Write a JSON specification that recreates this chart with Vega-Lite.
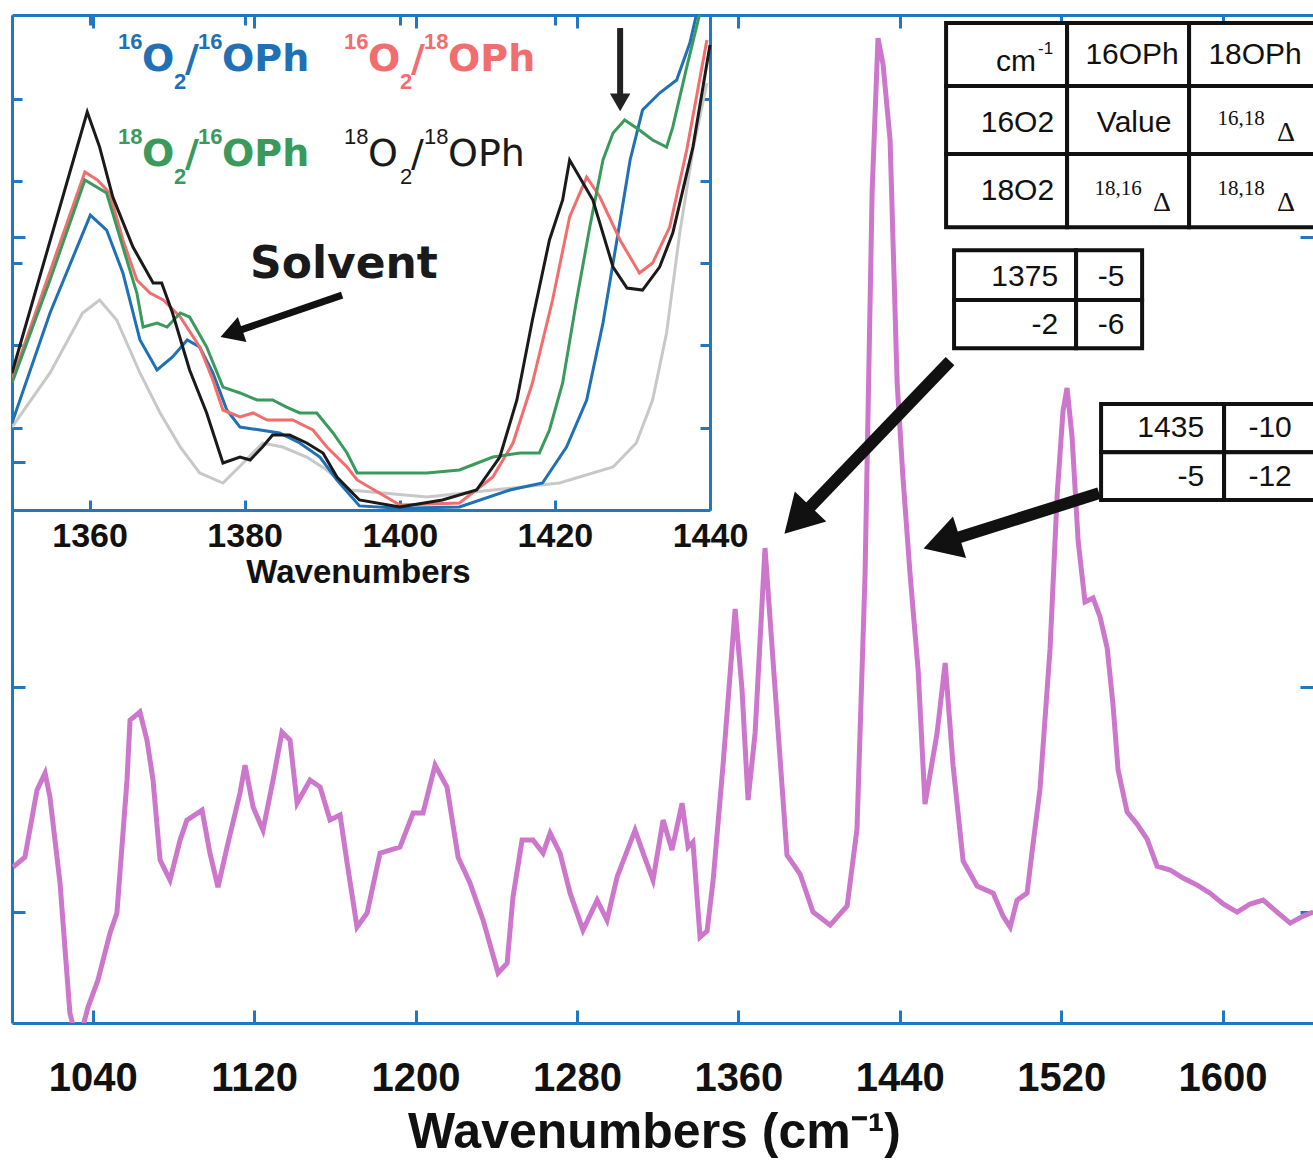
{
  "$schema": "https://vega.github.io/schema/vega-lite/v6.json",
  "width": 1301,
  "height": 1008,
  "autosize": {"type": "none"},
  "padding": {"left": 12, "top": 15, "right": 0, "bottom": 140},
  "background": "white",
  "config": {"view": {"stroke": null}, "axis": {"grid": false}},
  "datasets": {
    "main": [
      {"wn":1000.5,"a":20.0},{"wn":1006.4,"a":24.4},{"wn":1012.4,"a":54.2},{"wn":1016.4,"a":61.8},{"wn":1018.8,"a":51.1},
      {"wn":1023.8,"a":12.9},{"wn":1028.7,"a":-44.9},{"wn":1032.7,"a":-59.1},{"wn":1037.7,"a":-42.2},{"wn":1042.6,"a":-30.2},
      {"wn":1048.6,"a":-9.3},{"wn":1052.0,"a":-0.4},{"wn":1057.0,"a":58.7},{"wn":1058.5,"a":85.3},{"wn":1063.4,"a":88.9},
      {"wn":1066.9,"a":76.4},{"wn":1069.9,"a":58.7},{"wn":1073.4,"a":23.1},{"wn":1078.3,"a":14.2},{"wn":1083.3,"a":32.0},
      {"wn":1086.7,"a":40.9},{"wn":1094.2,"a":45.3},{"wn":1098.1,"a":26.2},{"wn":1102.1,"a":11.1},{"wn":1106.6,"a":28.9},
      {"wn":1113.0,"a":52.9},{"wn":1115.5,"a":65.3},{"wn":1119.5,"a":46.7},{"wn":1124.4,"a":36.4},{"wn":1129.4,"a":58.7},
      {"wn":1133.8,"a":80.0},{"wn":1137.8,"a":76.4},{"wn":1141.3,"a":48.4},{"wn":1147.7,"a":58.7},{"wn":1152.7,"a":55.6},
      {"wn":1157.6,"a":40.9},{"wn":1162.6,"a":43.1},{"wn":1166.1,"a":21.8},{"wn":1171.0,"a":-6.7},{"wn":1176.0,"a":-0.4},
      {"wn":1182.4,"a":26.2},{"wn":1192.3,"a":28.9},{"wn":1198.8,"a":44.0},{"wn":1203.7,"a":44.0},{"wn":1209.7,"a":65.3},
      {"wn":1215.6,"a":55.6},{"wn":1221.1,"a":24.4},{"wn":1227.0,"a":12.9},{"wn":1233.5,"a":-3.6},{"wn":1240.9,"a":-27.1},
      {"wn":1245.4,"a":-22.7},{"wn":1248.3,"a":6.7},{"wn":1252.8,"a":32.0},{"wn":1258.2,"a":32.0},{"wn":1263.2,"a":26.2},
      {"wn":1266.7,"a":35.1},{"wn":1271.6,"a":26.2},{"wn":1276.6,"a":8.4},{"wn":1283.0,"a":-8.0},{"wn":1290.0,"a":5.3},
      {"wn":1294.9,"a":-3.6},{"wn":1299.9,"a":15.6},{"wn":1308.8,"a":36.4},{"wn":1312.8,"a":26.2},{"wn":1317.7,"a":14.2},
      {"wn":1322.7,"a":40.9},{"wn":1327.1,"a":27.6},{"wn":1332.1,"a":48.4},{"wn":1335.1,"a":28.9},{"wn":1337.5,"a":31.1},
      {"wn":1341.0,"a":-11.1},{"wn":1344.5,"a":-8.4},{"wn":1347.5,"a":14.2},{"wn":1352.4,"a":65.3},{"wn":1358.4,"a":134.7},
      {"wn":1361.8,"a":99.1},{"wn":1364.8,"a":49.8},{"wn":1368.3,"a":79.6},{"wn":1373.2,"a":161.8},{"wn":1378.2,"a":99.1},
      {"wn":1384.1,"a":25.3},{"wn":1390.6,"a":16.9},{"wn":1397.0,"a":0.0},{"wn":1405.5,"a":-5.8},{"wn":1413.9,"a":2.7},
      {"wn":1418.8,"a":36.9},{"wn":1422.8,"a":150.2},{"wn":1426.3,"a":320.4},{"wn":1429.2,"a":388.4},{"wn":1431.7,"a":376.9},
      {"wn":1435.2,"a":343.1},{"wn":1438.7,"a":235.1},{"wn":1441.6,"a":192.9},{"wn":1445.1,"a":150.2},{"wn":1449.1,"a":107.6},
      {"wn":1452.5,"a":48.0},{"wn":1458.5,"a":79.6},{"wn":1462.5,"a":110.7},{"wn":1466.4,"a":65.3},{"wn":1471.4,"a":22.7},
      {"wn":1478.3,"a":11.6},{"wn":1486.3,"a":8.4},{"wn":1491.2,"a":-1.8},{"wn":1494.7,"a":-6.7},{"wn":1498.1,"a":5.3},
      {"wn":1503.1,"a":8.4},{"wn":1505.6,"a":27.1},{"wn":1509.5,"a":54.7},{"wn":1514.5,"a":117.3},{"wn":1518.0,"a":185.3},
      {"wn":1520.9,"a":222.7},{"wn":1522.9,"a":232.9},{"wn":1525.4,"a":211.1},{"wn":1528.4,"a":164.9},{"wn":1531.8,"a":137.8},
      {"wn":1535.8,"a":139.6},{"wn":1539.3,"a":131.1},{"wn":1542.8,"a":117.3},{"wn":1545.7,"a":92.0},{"wn":1548.2,"a":63.1},
      {"wn":1552.7,"a":44.4},{"wn":1557.6,"a":39.1},{"wn":1562.6,"a":32.4},{"wn":1567.5,"a":20.4},{"wn":1574.0,"a":18.7},
      {"wn":1580.4,"a":15.1},{"wn":1587.4,"a":12.0},{"wn":1593.8,"a":8.4},{"wn":1600.3,"a":3.6},{"wn":1607.2,"a":0.0},
      {"wn":1613.6,"a":3.6},{"wn":1620.1,"a":5.3},{"wn":1627.0,"a":0.0},{"wn":1633.5,"a":-4.9},{"wn":1639.9,"a":-1.8},
      {"wn":1644.9,"a":0.0}
    ],
    "inset": [
      {"wn":1350.0,"a":100.8,"sample":"Solvent"},{"wn":1354.9,"a":166.5,"sample":"Solvent"},{"wn":1359.1,"a":239.4,"sample":"Solvent"},
      {"wn":1361.3,"a":255.2,"sample":"Solvent"},{"wn":1363.5,"a":230.9,"sample":"Solvent"},{"wn":1366.5,"a":166.5,"sample":"Solvent"},
      {"wn":1369.1,"a":117.9,"sample":"Solvent"},{"wn":1371.7,"a":76.5,"sample":"Solvent"},{"wn":1374.2,"a":45.0,"sample":"Solvent"},
      {"wn":1377.2,"a":32.8,"sample":"Solvent"},{"wn":1379.8,"a":57.1,"sample":"Solvent"},{"wn":1382.3,"a":81.4,"sample":"Solvent"},
      {"wn":1384.9,"a":76.5,"sample":"Solvent"},{"wn":1388.0,"a":64.4,"sample":"Solvent"},{"wn":1390.6,"a":48.6,"sample":"Solvent"},
      {"wn":1393.6,"a":24.3,"sample":"Solvent"},{"wn":1403.5,"a":15.8,"sample":"Solvent"},{"wn":1412.0,"a":24.3,"sample":"Solvent"},
      {"wn":1420.6,"a":32.8,"sample":"Solvent"},{"wn":1427.5,"a":52.2,"sample":"Solvent"},{"wn":1430.5,"a":81.4,"sample":"Solvent"},
      {"wn":1432.6,"a":133.7,"sample":"Solvent"},{"wn":1434.4,"a":215.1,"sample":"Solvent"},{"wn":1436.1,"a":336.6,"sample":"Solvent"},
      {"wn":1437.8,"a":437.4,"sample":"Solvent"},{"wn":1439.6,"a":518.8,"sample":"Solvent"},

      {"wn":1350.0,"a":105.7,"sample":"16O2/16OPh"},{"wn":1354.9,"a":239.4,"sample":"16O2/16OPh"},{"wn":1360.1,"a":358.4,"sample":"16O2/16OPh"},
      {"wn":1362.2,"a":340.2,"sample":"16O2/16OPh"},{"wn":1364.3,"a":288.0,"sample":"16O2/16OPh"},{"wn":1366.5,"a":206.6,"sample":"16O2/16OPh"},
      {"wn":1368.7,"a":170.1,"sample":"16O2/16OPh"},{"wn":1370.7,"a":185.9,"sample":"16O2/16OPh"},{"wn":1372.6,"a":206.6,"sample":"16O2/16OPh"},
      {"wn":1374.2,"a":198.0,"sample":"16O2/16OPh"},{"wn":1375.9,"a":166.5,"sample":"16O2/16OPh"},{"wn":1377.7,"a":121.5,"sample":"16O2/16OPh"},
      {"wn":1379.4,"a":100.8,"sample":"16O2/16OPh"},{"wn":1382.0,"a":97.2,"sample":"16O2/16OPh"},{"wn":1384.5,"a":93.6,"sample":"16O2/16OPh"},
      {"wn":1387.1,"a":81.4,"sample":"16O2/16OPh"},{"wn":1389.7,"a":64.4,"sample":"16O2/16OPh"},{"wn":1391.9,"a":36.5,"sample":"16O2/16OPh"},
      {"wn":1394.8,"a":5.0,"sample":"16O2/16OPh"},{"wn":1400.0,"a":2.0,"sample":"16O2/16OPh"},{"wn":1407.7,"a":3.6,"sample":"16O2/16OPh"},
      {"wn":1414.2,"a":24.3,"sample":"16O2/16OPh"},{"wn":1418.4,"a":32.8,"sample":"16O2/16OPh"},{"wn":1421.5,"a":76.5,"sample":"16O2/16OPh"},
      {"wn":1424.1,"a":133.7,"sample":"16O2/16OPh"},{"wn":1426.2,"a":227.2,"sample":"16O2/16OPh"},{"wn":1428.0,"a":328.1,"sample":"16O2/16OPh"},
      {"wn":1429.7,"a":425.3,"sample":"16O2/16OPh"},{"wn":1431.3,"a":486.0,"sample":"16O2/16OPh"},{"wn":1433.5,"a":506.7,"sample":"16O2/16OPh"},
      {"wn":1435.7,"a":522.5,"sample":"16O2/16OPh"},{"wn":1437.4,"a":567.4,"sample":"16O2/16OPh"},{"wn":1438.3,"a":603.9,"sample":"16O2/16OPh"},
      {"wn":1439.0,"a":640.0,"sample":"16O2/16OPh"},

      {"wn":1350.0,"a":158.0,"sample":"16O2/18OPh"},{"wn":1359.4,"a":410.7,"sample":"16O2/18OPh"},{"wn":1361.0,"a":401.0,"sample":"16O2/18OPh"},
      {"wn":1362.6,"a":385.2,"sample":"16O2/18OPh"},{"wn":1364.3,"a":328.1,"sample":"16O2/18OPh"},{"wn":1366.1,"a":279.5,"sample":"16O2/18OPh"},
      {"wn":1367.8,"a":263.7,"sample":"16O2/18OPh"},{"wn":1369.5,"a":255.2,"sample":"16O2/18OPh"},{"wn":1371.7,"a":234.5,"sample":"16O2/18OPh"},
      {"wn":1374.2,"a":198.0,"sample":"16O2/18OPh"},{"wn":1375.9,"a":158.0,"sample":"16O2/18OPh"},{"wn":1377.2,"a":121.5,"sample":"16O2/18OPh"},
      {"wn":1379.4,"a":113.0,"sample":"16O2/18OPh"},{"wn":1381.1,"a":117.9,"sample":"16O2/18OPh"},{"wn":1382.9,"a":109.4,"sample":"16O2/18OPh"},
      {"wn":1386.2,"a":109.4,"sample":"16O2/18OPh"},{"wn":1388.8,"a":97.2,"sample":"16O2/18OPh"},{"wn":1390.6,"a":76.5,"sample":"16O2/18OPh"},
      {"wn":1393.2,"a":52.2,"sample":"16O2/18OPh"},{"wn":1394.5,"a":36.5,"sample":"16O2/18OPh"},{"wn":1400.0,"a":6.1,"sample":"16O2/18OPh"},
      {"wn":1407.7,"a":8.5,"sample":"16O2/18OPh"},{"wn":1412.0,"a":40.1,"sample":"16O2/18OPh"},{"wn":1414.6,"a":81.4,"sample":"16O2/18OPh"},
      {"wn":1417.1,"a":154.3,"sample":"16O2/18OPh"},{"wn":1419.7,"a":255.2,"sample":"16O2/18OPh"},{"wn":1421.9,"a":356.0,"sample":"16O2/18OPh"},
      {"wn":1424.1,"a":404.6,"sample":"16O2/18OPh"},{"wn":1425.8,"a":380.3,"sample":"16O2/18OPh"},{"wn":1428.4,"a":328.1,"sample":"16O2/18OPh"},
      {"wn":1430.9,"a":288.0,"sample":"16O2/18OPh"},{"wn":1432.6,"a":300.1,"sample":"16O2/18OPh"},{"wn":1434.8,"a":343.8,"sample":"16O2/18OPh"},
      {"wn":1437.0,"a":437.4,"sample":"16O2/18OPh"},{"wn":1439.6,"a":571.1,"sample":"16O2/18OPh"},

      {"wn":1350.0,"a":154.3,"sample":"18O2/16OPh"},{"wn":1354.9,"a":279.5,"sample":"18O2/16OPh"},{"wn":1359.4,"a":401.0,"sample":"18O2/16OPh"},
      {"wn":1362.2,"a":385.2,"sample":"18O2/16OPh"},{"wn":1364.3,"a":319.5,"sample":"18O2/16OPh"},{"wn":1366.1,"a":263.7,"sample":"18O2/16OPh"},
      {"wn":1366.9,"a":222.3,"sample":"18O2/16OPh"},{"wn":1368.7,"a":227.2,"sample":"18O2/16OPh"},{"wn":1370.0,"a":222.3,"sample":"18O2/16OPh"},
      {"wn":1371.7,"a":239.4,"sample":"18O2/16OPh"},{"wn":1372.9,"a":234.5,"sample":"18O2/16OPh"},{"wn":1375.1,"a":198.0,"sample":"18O2/16OPh"},
      {"wn":1377.2,"a":149.4,"sample":"18O2/16OPh"},{"wn":1379.4,"a":142.2,"sample":"18O2/16OPh"},{"wn":1381.6,"a":133.7,"sample":"18O2/16OPh"},
      {"wn":1383.6,"a":133.7,"sample":"18O2/16OPh"},{"wn":1385.4,"a":125.1,"sample":"18O2/16OPh"},{"wn":1387.1,"a":117.9,"sample":"18O2/16OPh"},
      {"wn":1389.3,"a":117.9,"sample":"18O2/16OPh"},{"wn":1391.4,"a":93.6,"sample":"18O2/16OPh"},{"wn":1393.2,"a":69.3,"sample":"18O2/16OPh"},
      {"wn":1394.5,"a":45.0,"sample":"18O2/16OPh"},{"wn":1399.1,"a":45.0,"sample":"18O2/16OPh"},{"wn":1403.5,"a":45.0,"sample":"18O2/16OPh"},
      {"wn":1407.7,"a":48.6,"sample":"18O2/16OPh"},{"wn":1412.0,"a":64.4,"sample":"18O2/16OPh"},{"wn":1415.5,"a":69.3,"sample":"18O2/16OPh"},
      {"wn":1418.0,"a":69.3,"sample":"18O2/16OPh"},{"wn":1419.3,"a":97.2,"sample":"18O2/16OPh"},{"wn":1421.0,"a":154.3,"sample":"18O2/16OPh"},
      {"wn":1422.8,"a":255.2,"sample":"18O2/16OPh"},{"wn":1424.5,"a":343.8,"sample":"18O2/16OPh"},{"wn":1426.2,"a":425.3,"sample":"18O2/16OPh"},
      {"wn":1427.5,"a":458.1,"sample":"18O2/16OPh"},{"wn":1429.0,"a":473.9,"sample":"18O2/16OPh"},{"wn":1430.9,"a":461.7,"sample":"18O2/16OPh"},
      {"wn":1432.6,"a":449.6,"sample":"18O2/16OPh"},{"wn":1434.4,"a":441.0,"sample":"18O2/16OPh"},{"wn":1435.2,"a":465.3,"sample":"18O2/16OPh"},
      {"wn":1437.0,"a":538.2,"sample":"18O2/16OPh"},{"wn":1438.7,"a":603.9,"sample":"18O2/16OPh"},{"wn":1439.5,"a":640.0,"sample":"18O2/16OPh"},

      {"wn":1350.0,"a":166.5,"sample":"18O2/18OPh"},{"wn":1359.7,"a":483.6,"sample":"18O2/18OPh"},{"wn":1361.3,"a":441.0,"sample":"18O2/18OPh"},
      {"wn":1363.0,"a":380.3,"sample":"18O2/18OPh"},{"wn":1365.6,"a":319.5,"sample":"18O2/18OPh"},{"wn":1368.2,"a":275.8,"sample":"18O2/18OPh"},
      {"wn":1369.3,"a":275.8,"sample":"18O2/18OPh"},{"wn":1370.7,"a":239.4,"sample":"18O2/18OPh"},{"wn":1372.9,"a":170.1,"sample":"18O2/18OPh"},
      {"wn":1375.1,"a":117.9,"sample":"18O2/18OPh"},{"wn":1377.2,"a":57.1,"sample":"18O2/18OPh"},{"wn":1379.4,"a":64.4,"sample":"18O2/18OPh"},
      {"wn":1380.7,"a":60.8,"sample":"18O2/18OPh"},{"wn":1382.3,"a":76.5,"sample":"18O2/18OPh"},{"wn":1383.6,"a":91.1,"sample":"18O2/18OPh"},
      {"wn":1385.8,"a":91.1,"sample":"18O2/18OPh"},{"wn":1388.0,"a":81.4,"sample":"18O2/18OPh"},{"wn":1390.1,"a":69.3,"sample":"18O2/18OPh"},
      {"wn":1391.9,"a":40.1,"sample":"18O2/18OPh"},{"wn":1393.9,"a":20.7,"sample":"18O2/18OPh"},{"wn":1394.8,"a":12.2,"sample":"18O2/18OPh"},
      {"wn":1400.0,"a":3.6,"sample":"18O2/18OPh"},{"wn":1405.5,"a":12.2,"sample":"18O2/18OPh"},{"wn":1409.9,"a":24.3,"sample":"18O2/18OPh"},
      {"wn":1412.9,"a":64.4,"sample":"18O2/18OPh"},{"wn":1415.1,"a":133.7,"sample":"18O2/18OPh"},{"wn":1417.1,"a":230.9,"sample":"18O2/18OPh"},
      {"wn":1419.3,"a":328.1,"sample":"18O2/18OPh"},{"wn":1421.0,"a":376.7,"sample":"18O2/18OPh"},{"wn":1421.9,"a":425.3,"sample":"18O2/18OPh"},
      {"wn":1424.9,"a":376.7,"sample":"18O2/18OPh"},{"wn":1427.5,"a":295.2,"sample":"18O2/18OPh"},{"wn":1429.3,"a":269.7,"sample":"18O2/18OPh"},
      {"wn":1431.3,"a":267.3,"sample":"18O2/18OPh"},{"wn":1433.5,"a":295.2,"sample":"18O2/18OPh"},{"wn":1435.2,"a":336.6,"sample":"18O2/18OPh"},
      {"wn":1437.8,"a":441.0,"sample":"18O2/18OPh"},{"wn":1440.0,"a":565.0,"sample":"18O2/18OPh"}
    ],
    "legend": [
      {"x":1052.54,"y":383.5,"t":"16","role":"sup","sample":"16O2/16OPh"},
      {"x":1064.44,"y":373.7,"t":"O","role":"big","sample":"16O2/16OPh"},
      {"x":1080.30,"y":365.7,"t":"2","role":"sup","sample":"16O2/16OPh"},
      {"x":1085.75,"y":373.7,"t":"/","role":"big","sample":"16O2/16OPh"},
      {"x":1092.19,"y":383.5,"t":"16","role":"sup","sample":"16O2/16OPh"},
      {"x":1104.09,"y":373.7,"t":"OPh","role":"big","sample":"16O2/16OPh"},
      {"x":1164.56,"y":383.5,"t":"16","role":"sup","sample":"16O2/18OPh"},
      {"x":1176.45,"y":373.7,"t":"O","role":"big","sample":"16O2/18OPh"},
      {"x":1192.32,"y":365.7,"t":"2","role":"sup","sample":"16O2/18OPh"},
      {"x":1197.77,"y":373.7,"t":"/","role":"big","sample":"16O2/18OPh"},
      {"x":1204.21,"y":383.5,"t":"18","role":"sup","sample":"16O2/18OPh"},
      {"x":1216.11,"y":373.7,"t":"OPh","role":"big","sample":"16O2/18OPh"},
      {"x":1052.54,"y":341.3,"t":"18","role":"sup","sample":"18O2/16OPh"},
      {"x":1064.44,"y":331.5,"t":"O","role":"big","sample":"18O2/16OPh"},
      {"x":1080.30,"y":323.5,"t":"2","role":"sup","sample":"18O2/16OPh"},
      {"x":1085.75,"y":331.5,"t":"/","role":"big","sample":"18O2/16OPh"},
      {"x":1092.19,"y":341.3,"t":"16","role":"sup","sample":"18O2/16OPh"},
      {"x":1104.09,"y":331.5,"t":"OPh","role":"big","sample":"18O2/16OPh"},
      {"x":1164.56,"y":341.3,"t":"18","role":"supR","sample":"18O2/18OPh"},
      {"x":1176.45,"y":331.5,"t":"O","role":"bigR","sample":"18O2/18OPh"},
      {"x":1192.32,"y":323.5,"t":"2","role":"supR","sample":"18O2/18OPh"},
      {"x":1197.77,"y":331.5,"t":"/","role":"bigR","sample":"18O2/18OPh"},
      {"x":1204.21,"y":341.3,"t":"18","role":"supR","sample":"18O2/18OPh"},
      {"x":1216.11,"y":331.5,"t":"OPh","role":"bigR","sample":"18O2/18OPh"},
      {"x":1117.97,"y":281.8,"t":"Solvent","role":"solv","sample":"18O2/18OPh"}
    ],
    "cells": [
      {"x":1462.95,"x2":1522.92,"y":395.1,"y2":367.1},{"x":1522.92,"x2":1583.39,"y":395.1,"y2":367.1},{"x":1583.39,"x2":1646,"y":395.1,"y2":367.1},
      {"x":1462.95,"x2":1522.92,"y":367.1,"y2":336.9},{"x":1522.92,"x2":1583.39,"y":367.1,"y2":336.9},{"x":1583.39,"x2":1646,"y":367.1,"y2":336.9},
      {"x":1462.95,"x2":1522.92,"y":336.9,"y2":304.4},{"x":1522.92,"x2":1583.39,"y":336.9,"y2":304.4},{"x":1583.39,"x2":1646,"y":336.9,"y2":304.4},
      {"x":1466.91,"x2":1527.38,"y":294.2,"y2":272.0},{"x":1527.38,"x2":1560.10,"y":294.2,"y2":272.0},
      {"x":1466.91,"x2":1527.38,"y":272.0,"y2":250.6},{"x":1527.38,"x2":1560.10,"y":272.0,"y2":250.6},
      {"x":1539.77,"x2":1600.74,"y":225.8,"y2":204.4},{"x":1600.74,"x2":1646,"y":225.8,"y2":204.4},
      {"x":1539.77,"x2":1600.74,"y":204.4,"y2":183.1},{"x":1600.74,"x2":1646,"y":204.4,"y2":183.1}
    ],
    "ttext": [
      {"x":1507.56,"y":373.7,"t":"cm","role":"r"},
      {"x":1508.55,"y":381.3,"t":"-1","role":"sup"},
      {"x":1555.14,"y":376.9,"t":"16OPh","role":"c"},
      {"x":1616.11,"y":376.9,"t":"18OPh","role":"c"},
      {"x":1516.48,"y":346.6,"t":"16O2","role":"r"},
      {"x":1556.13,"y":346.6,"t":"Value","role":"c"},
      {"x":1609.17,"y":349.7,"t":"16,18","role":"serif"},
      {"x":1631.48,"y":342.6,"t":"Δ","role":"delta"},
      {"x":1516.48,"y":316.4,"t":"18O2","role":"r"},
      {"x":1548.20,"y":318.6,"t":"18,16","role":"serif"},
      {"x":1570.01,"y":311.5,"t":"Δ","role":"delta"},
      {"x":1609.17,"y":318.6,"t":"18,18","role":"serif"},
      {"x":1631.48,"y":311.5,"t":"Δ","role":"delta"},
      {"x":1518.46,"y":278.2,"t":"1375","role":"r"},
      {"x":1544.73,"y":278.2,"t":"-5","role":"c"},
      {"x":1518.46,"y":256.9,"t":"-2","role":"r"},
      {"x":1544.73,"y":256.9,"t":"-6","role":"c"},
      {"x":1590.83,"y":211.1,"t":"1435","role":"r"},
      {"x":1623.54,"y":211.1,"t":"-10","role":"c"},
      {"x":1590.83,"y":189.3,"t":"-5","role":"r"},
      {"x":1623.54,"y":189.3,"t":"-12","role":"c"}
    ],
    "arrows": [
      {"id":"A","x":1464.9,"y":244.9,"x2":1389.3,"y2":174.2,"hx":1389.3,"hy":174.2,"dir":223.8},
      {"id":"B","x":1538.8,"y":186.2,"x2":1460.7,"y2":164.1,"hx":1460.7,"hy":164.1,"dir":252.5},
      {"id":"S","x":1163.6,"y":274.2,"x2":1108.7,"y2":257.3,"hx":1108.7,"hy":257.3,"dir":251},
      {"id":"D","x":1301.4,"y":392.9,"x2":1301.4,"y2":360.0,"hx":1301.4,"hy":359.9,"dir":180}
    ]
  },
  "layer": [
    {
      "layer": [
        {
          "data": {"name": "main"},
          "mark": {"type": "line", "color": "#cc76cc", "strokeWidth": 5, "clip": true},
          "encoding": {
            "x": {"field": "wn", "type": "quantitative",
              "scale": {"domain": [1000, 1644.8], "nice": false, "zero": false},
              "axis": {"orient": "bottom", "values": [1040,1120,1200,1280,1360,1440,1520,1600], "format": "d",
                "title": "Wavenumbers (cm⁻¹)", "grid": false,
                "domainColor": "#1f78c1", "domainWidth": 3, "tickColor": "#1f78c1", "tickWidth": 3, "tickSize": -13,
                "labelFont": "Liberation Sans", "labelFontSize": 40, "labelFontWeight": "bold", "labelColor": "#111",
                "labelPadding": 48, "labelFlush": false, "labelOverlap": false,
                "titleFont": "Liberation Sans", "titleFontSize": 50, "titleFontWeight": "bold", "titleColor": "#111",
                "titleX": 642, "titleY": 124, "titleBaseline": "alphabetic", "titleAlign": "center"}},
            "y": {"field": "a", "type": "quantitative",
              "scale": {"domain": [-49.3, 398.7], "nice": false, "zero": false},
              "axis": {"orient": "left", "values": [0,100,200,300], "labels": false, "title": null, "grid": false,
                "domainColor": "#1f78c1", "domainWidth": 3, "tickColor": "#1f78c1", "tickWidth": 3, "tickSize": -13}}
          }
        },
        {
          "data": {"name": "main"},
          "mark": {"type": "point", "opacity": 0},
          "encoding": {
            "x": {"field": "wn", "type": "quantitative",
              "axis": {"orient": "top", "values": [1040,1120,1200,1280,1360,1440,1520,1600], "labels": false, "title": null, "grid": false,
                "domainColor": "#1f78c1", "domainWidth": 3, "tickColor": "#1f78c1", "tickWidth": 3, "tickSize": -13}},
            "y": {"field": "a", "type": "quantitative",
              "axis": {"orient": "right", "values": [0,100,200,300], "labels": false, "title": null, "grid": false,
                "domain": false, "tickColor": "#1f78c1", "tickWidth": 3, "tickSize": -13}}
          }
        },
        {
          "data": {"name": "cells"},
          "mark": {"type": "rect", "fill": "white", "stroke": "#111", "strokeWidth": 4, "clip": true},
          "encoding": {
            "x": {"field": "x", "type": "quantitative", "axis": null},
            "x2": {"field": "x2"},
            "y": {"field": "y", "type": "quantitative", "axis": null},
            "y2": {"field": "y2"}
          }
        },
        {
          "data": {"name": "ttext"},
          "transform": [{"filter": {"field": "role", "equal": "c"}}],
          "mark": {"type": "text", "font": "Liberation Sans", "fontSize": 30, "align": "center", "baseline": "alphabetic", "color": "#111"},
          "encoding": {"x": {"field": "x", "type": "quantitative", "axis": null}, "y": {"field": "y", "type": "quantitative", "axis": null}, "text": {"field": "t"}}
        },
        {
          "data": {"name": "ttext"},
          "transform": [{"filter": {"field": "role", "equal": "r"}}],
          "mark": {"type": "text", "font": "Liberation Sans", "fontSize": 30, "align": "right", "baseline": "alphabetic", "color": "#111"},
          "encoding": {"x": {"field": "x", "type": "quantitative", "axis": null}, "y": {"field": "y", "type": "quantitative", "axis": null}, "text": {"field": "t"}}
        },
        {
          "data": {"name": "ttext"},
          "transform": [{"filter": {"field": "role", "equal": "sup"}}],
          "mark": {"type": "text", "font": "Liberation Sans", "fontSize": 17, "align": "left", "baseline": "alphabetic", "color": "#111"},
          "encoding": {"x": {"field": "x", "type": "quantitative", "axis": null}, "y": {"field": "y", "type": "quantitative", "axis": null}, "text": {"field": "t"}}
        },
        {
          "data": {"name": "ttext"},
          "transform": [{"filter": {"field": "role", "equal": "serif"}}],
          "mark": {"type": "text", "font": "Liberation Serif", "fontSize": 21, "align": "center", "baseline": "alphabetic", "color": "#111"},
          "encoding": {"x": {"field": "x", "type": "quantitative", "axis": null}, "y": {"field": "y", "type": "quantitative", "axis": null}, "text": {"field": "t"}}
        },
        {
          "data": {"name": "ttext"},
          "transform": [{"filter": {"field": "role", "equal": "delta"}}],
          "mark": {"type": "text", "font": "Liberation Serif", "fontSize": 28, "align": "center", "baseline": "alphabetic", "color": "#111"},
          "encoding": {"x": {"field": "x", "type": "quantitative", "axis": null}, "y": {"field": "y", "type": "quantitative", "axis": null}, "text": {"field": "t"}}
        },
        {
          "data": {"name": "legend"},
          "transform": [{"filter": {"field": "role", "equal": "big"}}],
          "mark": {"type": "text", "font": "DejaVu Sans", "fontWeight": "bold", "fontSize": 38, "align": "left", "baseline": "alphabetic"},
          "encoding": {
            "x": {"field": "x", "type": "quantitative", "axis": null}, "y": {"field": "y", "type": "quantitative", "axis": null}, "text": {"field": "t"},
            "color": {"field": "sample", "type": "nominal", "legend": null,
              "scale": {"domain": ["Solvent","16O2/16OPh","16O2/18OPh","18O2/16OPh","18O2/18OPh"], "range": ["#c8c8c8","#1f70b5","#f26d6d","#3a9a5c","#1a1a1a"]}}
          }
        },
        {
          "data": {"name": "legend"},
          "transform": [{"filter": {"field": "role", "equal": "sup"}}],
          "mark": {"type": "text", "font": "Liberation Sans", "fontWeight": "bold", "fontSize": 22, "align": "left", "baseline": "alphabetic"},
          "encoding": {
            "x": {"field": "x", "type": "quantitative", "axis": null}, "y": {"field": "y", "type": "quantitative", "axis": null}, "text": {"field": "t"},
            "color": {"field": "sample", "type": "nominal", "legend": null}
          }
        },
        {
          "data": {"name": "legend"},
          "transform": [{"filter": {"field": "role", "equal": "bigR"}}],
          "mark": {"type": "text", "font": "DejaVu Sans", "fontSize": 38, "align": "left", "baseline": "alphabetic"},
          "encoding": {
            "x": {"field": "x", "type": "quantitative", "axis": null}, "y": {"field": "y", "type": "quantitative", "axis": null}, "text": {"field": "t"},
            "color": {"field": "sample", "type": "nominal", "legend": null}
          }
        },
        {
          "data": {"name": "legend"},
          "transform": [{"filter": {"field": "role", "equal": "supR"}}],
          "mark": {"type": "text", "font": "Liberation Sans", "fontSize": 22, "align": "left", "baseline": "alphabetic"},
          "encoding": {
            "x": {"field": "x", "type": "quantitative", "axis": null}, "y": {"field": "y", "type": "quantitative", "axis": null}, "text": {"field": "t"},
            "color": {"field": "sample", "type": "nominal", "legend": null}
          }
        },
        {
          "data": {"name": "legend"},
          "transform": [{"filter": {"field": "role", "equal": "solv"}}],
          "mark": {"type": "text", "font": "DejaVu Sans", "fontWeight": "bold", "fontSize": 44, "align": "left", "baseline": "alphabetic"},
          "encoding": {
            "x": {"field": "x", "type": "quantitative", "axis": null}, "y": {"field": "y", "type": "quantitative", "axis": null}, "text": {"field": "t"},
            "color": {"field": "sample", "type": "nominal", "legend": null}
          }
        },
        {
          "data": {"name": "arrows"},
          "transform": [{"filter": {"field": "id", "oneOf": ["A","B"]}}],
          "mark": {"type": "rule", "color": "#111", "strokeWidth": 12},
          "encoding": {"x": {"field": "x", "type": "quantitative", "axis": null}, "y": {"field": "y", "type": "quantitative", "axis": null}, "x2": {"field": "x2"}, "y2": {"field": "y2"}}
        },
        {
          "data": {"name": "arrows"},
          "transform": [{"filter": {"field": "id", "equal": "S"}}],
          "mark": {"type": "rule", "color": "#111", "strokeWidth": 7},
          "encoding": {"x": {"field": "x", "type": "quantitative", "axis": null}, "y": {"field": "y", "type": "quantitative", "axis": null}, "x2": {"field": "x2"}, "y2": {"field": "y2"}}
        },
        {
          "data": {"name": "arrows"},
          "transform": [{"filter": {"field": "id", "equal": "D"}}],
          "mark": {"type": "rule", "color": "#222", "strokeWidth": 6},
          "encoding": {"x": {"field": "x", "type": "quantitative", "axis": null}, "y": {"field": "y", "type": "quantitative", "axis": null}, "x2": {"field": "x2"}, "y2": {"field": "y2"}}
        },
        {
          "data": {"name": "arrows"},
          "transform": [{"filter": {"field": "id", "oneOf": ["A","B"]}}],
          "mark": {"type": "point", "shape": "triangle-up", "filled": true, "color": "#111", "opacity": 1, "size": 1900},
          "encoding": {"x": {"field": "hx", "type": "quantitative", "axis": null}, "y": {"field": "hy", "type": "quantitative", "axis": null}, "angle": {"field": "dir", "type": "quantitative", "scale": null}}
        },
        {
          "data": {"name": "arrows"},
          "transform": [{"filter": {"field": "id", "equal": "S"}}],
          "mark": {"type": "point", "shape": "triangle-up", "filled": true, "color": "#111", "opacity": 1, "size": 700},
          "encoding": {"x": {"field": "hx", "type": "quantitative", "axis": null}, "y": {"field": "hy", "type": "quantitative", "axis": null}, "angle": {"field": "dir", "type": "quantitative", "scale": null}}
        },
        {
          "data": {"name": "arrows"},
          "transform": [{"filter": {"field": "id", "equal": "D"}}],
          "mark": {"type": "point", "shape": "triangle-up", "filled": true, "color": "#222", "opacity": 1, "size": 420},
          "encoding": {"x": {"field": "hx", "type": "quantitative", "axis": null}, "y": {"field": "hy", "type": "quantitative", "axis": null}, "angle": {"field": "dir", "type": "quantitative", "scale": null}}
        }
      ],
      "resolve": {"axis": {"x": "independent", "y": "independent"}}
    },
    {
      "layer": [
        {
          "data": {"name": "inset"},
          "mark": {"type": "line", "strokeWidth": 3, "clip": true},
          "encoding": {
            "x": {"field": "wn", "type": "quantitative",
              "scale": {"domain": [1350, 1440], "range": [0, 698], "nice": false, "zero": false},
              "axis": {"orient": "bottom", "offset": -513, "values": [1360,1380,1400,1420,1440], "format": "d", "title": "Wavenumbers", "grid": false,
                "domainColor": "#1f78c1", "domainWidth": 3, "tickColor": "#1f78c1", "tickWidth": 3, "tickSize": -10,
                "labelFont": "Liberation Sans", "labelFontSize": 34, "labelFontWeight": "bold", "labelColor": "#111",
                "labelPadding": 19, "labelFlush": false, "labelOverlap": false,
                "titleFont": "Liberation Sans", "titleFontSize": 33, "titleFontWeight": "bold", "titleColor": "#111",
                "titleX": 346, "titleY": 72, "titleBaseline": "alphabetic", "titleAlign": "center"}},
            "y": {"field": "a", "type": "quantitative",
              "scale": {"domain": [0, 601.5], "range": [495, 0], "nice": false, "zero": false},
              "axis": {"orient": "left", "values": [100,200,300,400,500], "labels": false, "title": null, "grid": false,
                "domainColor": "#1f78c1", "domainWidth": 3, "tickColor": "#1f78c1", "tickWidth": 3, "tickSize": -10}},
            "color": {"field": "sample", "type": "nominal", "legend": null,
              "scale": {"domain": ["Solvent","16O2/16OPh","16O2/18OPh","18O2/16OPh","18O2/18OPh"], "range": ["#c8c8c8","#1f70b5","#f26d6d","#3a9a5c","#1a1a1a"]}}
          }
        },
        {
          "data": {"name": "inset"},
          "mark": {"type": "point", "opacity": 0},
          "encoding": {
            "x": {"field": "wn", "type": "quantitative",
              "axis": {"orient": "top", "values": [1360,1380,1400,1420], "labels": false, "title": null, "grid": false,
                "domain": false, "tickColor": "#1f78c1", "tickWidth": 3, "tickSize": -10}},
            "y": {"field": "a", "type": "quantitative",
              "axis": {"orient": "right", "offset": -603, "values": [100,200,300,400,500], "labels": false, "title": null, "grid": false,
                "domainColor": "#1f78c1", "domainWidth": 3, "tickColor": "#1f78c1", "tickWidth": 3, "tickSize": -10}}
          }
        }
      ],
      "resolve": {"axis": {"x": "independent", "y": "independent"}}
    }
  ],
  "resolve": {"scale": {"x": "independent", "y": "independent"}, "axis": {"x": "independent", "y": "independent"}}
}
